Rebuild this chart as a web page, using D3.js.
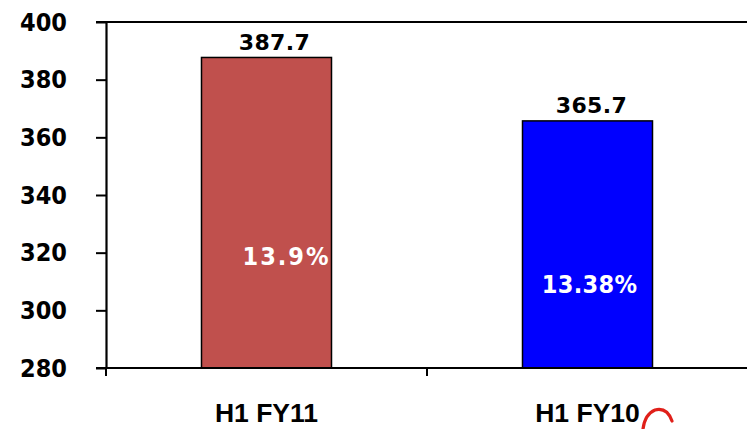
<!DOCTYPE html>
<html>
<head>
<meta charset="utf-8">
<script src="https://cdn.jsdelivr.net/npm/d3@7"></script>
<style>
  html, body { margin: 0; padding: 0; background: #ffffff; }
  svg { display: block; }
</style>
</head>
<body>
<div id="chart"></div>
<script>
// Half-year figures and their margin labels
const categories = ["H1 FY11", "H1 FY10"];
const values = [387.7, 365.7];
const valueLabels = ["387.7", "365.7"];
const marginLabels = ["13.9%", "13.38%"];
const yTicks = [280, 300, 320, 340, 360, 380, 400];

// Presentation settings
const barColors = ["#C0504D", "#0000FF"];
const marginLabelAt = [319, 309.3];        // y-position (axis units) of the inner labels
const marginLabelShift = [20, 2];          // horizontal offset of the inner labels
const marginLabelSpacing = [2, 0.3];       // letter spacing for the inner labels
const valueLabelShift = [8, 4];            // horizontal offset of the value labels

const W = 747, H = 429;
const plotLeft = 106, plotRight = 748, plotTop = 22, plotBottom = 368;

const svg = d3.select("#chart").append("svg")
  .attr("width", W).attr("height", H);

const x = d3.scaleBand().domain(categories).range([plotLeft, plotRight]).padding(0);
const y = d3.scaleLinear().domain([280, 400]).range([plotBottom, plotTop]);
const barW = x.bandwidth() * 0.405;
const cx = i => x(categories[i]) + x.bandwidth() / 2;

// Top frame line
svg.append("line")
  .attr("x1", plotLeft - 10).attr("x2", W)
  .attr("y1", y(400)).attr("y2", y(400))
  .attr("stroke", "#000").attr("stroke-width", 2);

// Bars
svg.selectAll("rect.bar").data(values).enter().append("rect")
  .attr("class", "bar")
  .attr("x", (d, i) => cx(i) - barW / 2)
  .attr("y", d => y(d))
  .attr("width", barW)
  .attr("height", d => y(280) - y(d))
  .attr("fill", (d, i) => barColors[i])
  .attr("stroke", "#000").attr("stroke-width", 1.5);

// Y axis
const yAxis = d3.axisLeft(y).tickValues(yTicks).tickSize(10).tickPadding(29).tickSizeOuter(0);
const gy = svg.append("g").attr("transform", `translate(${plotLeft},0)`).call(yAxis);
gy.select(".domain").attr("stroke", "#000").attr("stroke-width", 2.2);
gy.selectAll(".tick line").attr("stroke", "#000").attr("stroke-width", 2);
gy.selectAll(".tick text")
  .attr("fill", "#000")
  .style("font-family", "'DejaVu Sans Condensed', 'DejaVu Sans', sans-serif")
  .style("font-stretch", "condensed")
  .style("font-weight", "bold")
  .style("font-size", "25px");

// X axis baseline with category separators
svg.append("line")
  .attr("x1", plotLeft - 10).attr("x2", W)
  .attr("y1", plotBottom).attr("y2", plotBottom)
  .attr("stroke", "#000").attr("stroke-width", 2.2);
const seps = categories.map(c => x(c)).concat([x(categories[categories.length - 1]) + x.bandwidth()]);
svg.selectAll("line.sep").data(seps).enter().append("line")
  .attr("class", "sep")
  .attr("x1", d => d).attr("x2", d => d)
  .attr("y1", plotBottom).attr("y2", plotBottom + 8)
  .attr("stroke", "#000").attr("stroke-width", 2);

// Category labels
svg.selectAll("text.cat").data(categories).enter().append("text")
  .attr("class", "cat")
  .attr("x", (d, i) => cx(i))
  .attr("y", 422)
  .attr("text-anchor", "middle")
  .attr("fill", "#000")
  .style("font-family", "'Liberation Sans', Arial, sans-serif")
  .style("font-weight", "bold")
  .style("font-size", "26.5px")
  .text(d => d);

// Value labels above bars
svg.selectAll("text.val").data(values).enter().append("text")
  .attr("class", "val")
  .attr("x", (d, i) => cx(i) + valueLabelShift[i])
  .attr("y", d => y(d) - 7.5)
  .attr("text-anchor", "middle")
  .attr("fill", "#000")
  .style("font-family", "'DejaVu Sans', sans-serif")
  .style("font-weight", "bold")
  .style("font-size", "22px")
  .style("letter-spacing", "0.4px")
  .text((d, i) => valueLabels[i]);

// Margin labels inside bars
svg.selectAll("text.margin").data(marginLabels).enter().append("text")
  .attr("class", "margin")
  .attr("x", (d, i) => cx(i) + marginLabelShift[i])
  .attr("y", (d, i) => y(marginLabelAt[i]))
  .attr("dy", "0.36em")
  .attr("text-anchor", "middle")
  .attr("fill", "#fff")
  .style("font-family", "'DejaVu Sans Condensed', 'DejaVu Sans', sans-serif")
  .style("font-stretch", "condensed")
  .style("font-weight", "bold")
  .style("font-size", "25px")
  .style("letter-spacing", (d, i) => marginLabelSpacing[i] + "px")
  .text(d => d);

// Red hand-drawn mark beside the second category label
svg.append("path")
  .attr("d", "M643,429 Q645,414 655,410 Q667,407 672,421")
  .attr("fill", "none")
  .attr("stroke", "#e0201a")
  .attr("stroke-width", 3.2)
  .attr("stroke-linecap", "round");
</script>
</body>
</html>
